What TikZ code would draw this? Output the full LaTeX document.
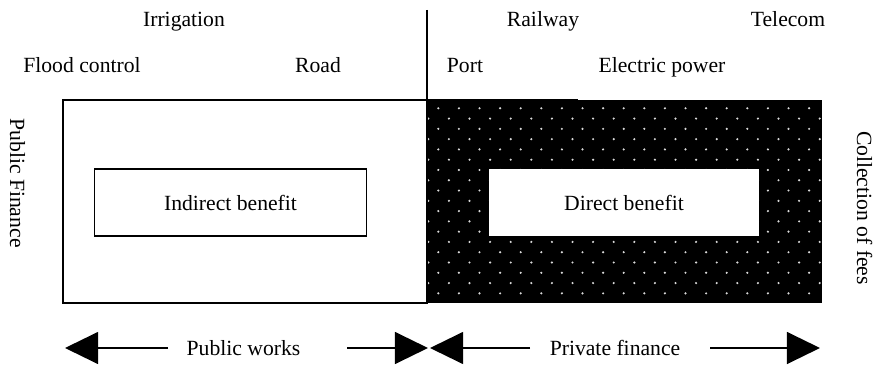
\documentclass[tikz,border=0pt]{standalone}
\usepackage{fontspec}
\setmainfont{Liberation Serif}
\usetikzlibrary{arrows.meta}
\tikzset{
  lbl/.style={anchor=base, inner sep=0pt, font=\fontsize{15.4}{18}\selectfont},
  sidelbl/.style={lbl, rotate=-90},
  benefit/.style={minimum width=6.8cm, minimum height=1.68cm, inner sep=0pt, font=\fontsize{15.4}{18}\selectfont},
  bigarrow/.style={line width=1.2pt, -{Triangle[length=0.83cm,width=0.8cm]}},
  dot/.style={fill=white!85!black},
}
\begin{document}
\begin{tikzpicture}[x=0.025cm, y=-0.025cm]
  \useasboundingbox (0,0) rectangle (881,367);

  % private side, dark with dots
  \fill[black] (427,100) rectangle (822,303);
  \foreach \r in {0,...,18}{
    \pgfmathsetmacro{\yy}{108.3+10.28*\r}
    \pgfmathtruncatemacro{\odd}{mod(\r,2)}
    \ifnum\odd=0
      \foreach \c in {0,...,18}{\fill[dot] (438.3+20.6*\c,\yy) circle[radius=0.85pt];}
    \else
      \foreach \c in {0,...,19}{\fill[dot] (428.3+20.6*\c,\yy) circle[radius=0.85pt];}
    \fi
  }

  % public side
  \draw[line width=1.4pt, fill=white] (63,100) rectangle (427,303);
  \draw[line width=1.2pt] (63,99.5) -- (578,99.5);
  \draw[line width=1pt] (427,10) -- (427,100);

  \node (indirect) [benefit, draw, line width=1pt] at (230.5,202.5) {Indirect benefit};
  \node (direct) [benefit, fill=white, minimum width=6.75cm] at (624,202.5) {Direct benefit};

  % sectors
  \node (irrig) [lbl] at (184,27) {Irrigation};
  \node (flood) [lbl] at (82,73) {Flood control};
  \node (road) [lbl] at (318,73) {Road};
  \node (rail) [lbl] at (543,27) {Railway};
  \node (tele) [lbl] at (788,27) {Telecom};
  \node (port) [lbl] at (465,73) {Port};
  \node (power) [lbl] at (662,73) {Electric power};

  \node (pubfin) [sidelbl] at (10,183) {Public Finance};
  \node (fees) [sidelbl] at (857,208) {Collection of fees};

  % bottom
  \node (works) [lbl] at (243.5,355) {Public works};
  \node (private) [lbl] at (615,355) {Private finance};
  \coordinate (worksL) at (168,348);
  \coordinate (worksR) at (347,348);
  \coordinate (privL) at (530,348);
  \coordinate (privR) at (710,348);
  \coordinate (tipA) at (65,348);
  \coordinate (tipB) at (428,348);
  \coordinate (tipC) at (430,348);
  \coordinate (tipD) at (820,348);
  \draw[bigarrow] (worksL) -- (tipA);
  \draw[bigarrow] (worksR) -- (tipB);
  \draw[bigarrow] (privL) -- (tipC);
  \draw[bigarrow] (privR) -- (tipD);
\end{tikzpicture}
\end{document}
